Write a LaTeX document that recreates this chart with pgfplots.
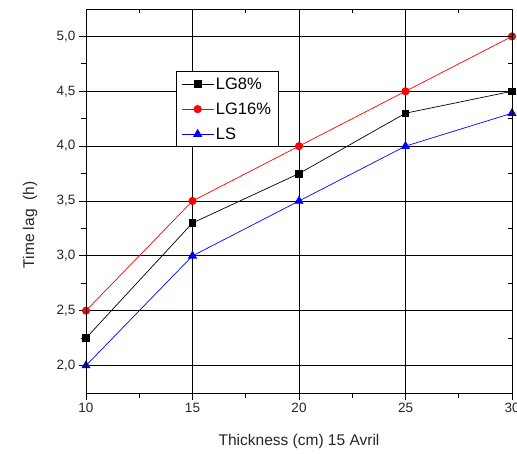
\documentclass[border=0pt]{standalone}
\usepackage{fontspec}
\setmainfont{Liberation Sans}
\usepackage{pgfplots}
\pgfplotsset{compat=1.18}

\begin{document}
\begin{tikzpicture}[x=1bp,y=1bp]
% fixed page area around the plot box
\useasboundingbox (-86,-61) rectangle (431,393);
\begin{axis}[
  at={(0,0)}, anchor=south west,
  scale only axis, width=426bp, height=384bp,
  xmin=10, xmax=30, ymin=1.75, ymax=5.25,
  xtick={10,15,20,25,30}, ytick={2,2.5,3,3.5,4,4.5,5},
  minor x tick num=1, minor y tick num=1,
  xtick pos=left, ytick pos=left,
  tick align=outside,
  major tick length=7bp, minor tick length=5bp,
  grid=major, major grid style={black, line width=0.8bp},
  axis line style={black, line width=0.8bp},
  every tick/.style={black, line width=0.8bp},
  /pgf/number format/assume math mode=true,
  yticklabel style={/pgf/number format/fixed, /pgf/number format/precision=1,
    /pgf/number format/fixed zerofill, /pgf/number format/use comma},
  tick label style={font=\fontsize{13.5bp}{16bp}\selectfont, text=black!85},
  label style={font=\fontsize{15.5bp}{18bp}\selectfont, text=black!85},
  xlabel={Thickness (cm) 15 Avril},
  ylabel={Time lag\ \ (h)},
  xlabel style={at={(axis description cs:0.5,-0.127)}, anchor=center},
  ylabel style={at={(axis description cs:-0.131,0.4375)}, anchor=center},
  legend style={at={(axis description cs:0.211,0.838)}, anchor=north west,
    draw=black, line width=0.8bp, fill=white,
    font=\fontsize{16.5bp}{19bp}\selectfont, row sep=8bp,
    inner xsep=5bp, inner ysep=4bp},
  legend cell align=left,
  legend image code/.code={\draw[mark repeat=2, mark phase=2]
    plot coordinates {(0bp,0bp) (16bp,0bp) (32bp,0bp)};},
]
\addplot[black, line width=0.7bp, mark=square*, mark size=3.3bp]
  coordinates {(10,2.25) (15,3.3) (20,3.75) (25,4.3) (30,4.5)};
\addlegendentry{LG8\%}
\addplot[red, line width=0.7bp, mark=*, mark size=3.7bp]
  coordinates {(10,2.5) (15,3.5) (20,4.0) (25,4.5) (30,5.0)};
\addlegendentry{LG16\%}
\addplot[blue, line width=0.7bp, mark=triangle*, mark size=4.6bp]
  coordinates {(10,2.0) (15,3.0) (20,3.5) (25,4.0) (30,4.3)};
\addlegendentry{LS}
\end{axis}
% inward ticks on the top and right edges
\begin{axis}[
  at={(0,0)}, anchor=south west,
  scale only axis, width=426bp, height=384bp,
  xmin=10, xmax=30, ymin=1.75, ymax=5.25,
  xtick={10,15,20,25,30}, ytick={2,2.5,3,3.5,4,4.5,5},
  minor x tick num=1, minor y tick num=1,
  xtick pos=right, ytick pos=right,
  tick align=inside,
  major tick length=6bp, minor tick length=4bp,
  xticklabels={}, yticklabels={},
  axis line style={black, line width=0.8bp},
  every tick/.style={black, line width=0.8bp},
]
\end{axis}
\end{tikzpicture}
\end{document}
